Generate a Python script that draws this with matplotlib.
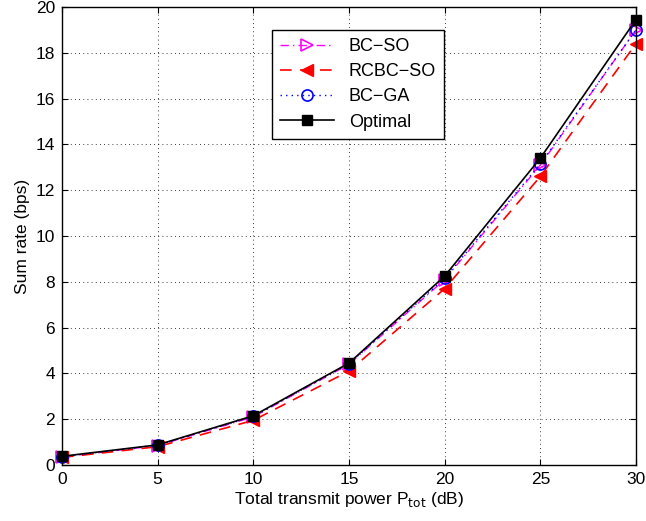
import matplotlib
matplotlib.use("Agg")
import matplotlib.pyplot as plt

plt.rcParams['font.family'] = ['Liberation Sans', 'DejaVu Sans']

power_db = [0, 5, 10, 15, 20, 25, 30]
bc_so = [0.35, 0.85, 2.10, 4.40, 8.10, 13.10, 19.00]
rcbc_so = [0.33, 0.80, 1.95, 4.10, 7.70, 12.60, 18.40]
bc_ga = [0.36, 0.87, 2.12, 4.42, 8.15, 13.15, 19.00]
optimal = [0.38, 0.88, 2.15, 4.45, 8.25, 13.40, 19.45]

fig = plt.figure(figsize=(6.46, 5.21), dpi=100)
ax = fig.add_axes([62/646, 56/521, 574/646, 458/521])

ax.plot(power_db, bc_so, color='#ff00ff', linestyle=(0, (6, 3, 1, 3)), lw=1.0,
        marker='>', markersize=8, markerfacecolor='none', markeredgecolor='#ff00ff',
        markeredgewidth=1.2, label='BC\u2212SO', clip_on=False)
ax.plot(power_db, rcbc_so, color='red', linestyle=(0, (7, 5)), lw=1.2,
        marker='<', markersize=8, markerfacecolor='red', markeredgecolor='red',
        label='RCBC\u2212SO', clip_on=False)
ax.plot(power_db, bc_ga, color='blue', linestyle=(0, (1, 3)), lw=1.0,
        marker='o', markersize=8, markerfacecolor='none', markeredgecolor='blue',
        markeredgewidth=1.2, label='BC\u2212GA', clip_on=False)
ax.plot(power_db, optimal, color='black', linestyle='-', lw=1.2,
        marker='s', markersize=7, markerfacecolor='black', markeredgecolor='black',
        label='Optimal', clip_on=False)

ax.set_xlim(0, 30)
ax.set_ylim(0, 20)
ax.set_xticks([0, 5, 10, 15, 20, 25, 30])
ax.set_yticks(range(0, 21, 2))
ax.grid(True, color='black', linestyle=(0, (1, 4)), lw=0.6)
ax.tick_params(direction='in', labelsize=12.5, top=True, right=True, length=4, pad=5)
for s in ax.spines.values():
    s.set_linewidth(1.0)

ax.set_xlabel('Total transmit power P$_{\\mathrm{tot}}$ (dB)', fontsize=12.5, labelpad=2)
ax.set_ylabel('Sum rate (bps)', fontsize=12.5)

leg = ax.legend(loc='upper left', bbox_to_anchor=(201/574, 1 - 14/458), fontsize=13,
                frameon=True, fancybox=False, edgecolor='black', framealpha=1,
                handlelength=3.0, borderpad=0.45, labelspacing=0.45)
leg.get_frame().set_linewidth(1.0)

fig.savefig('out.png', dpi=100)
